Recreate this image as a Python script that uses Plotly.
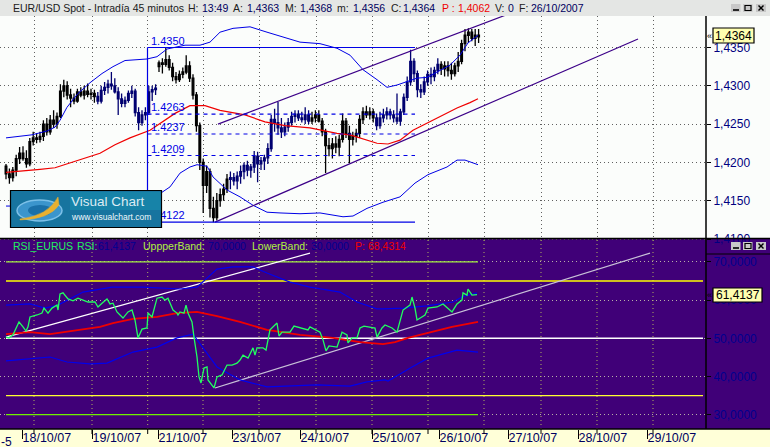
import plotly.graph_objects as go

W, H = 770, 447
PANEL_R = 706
TOP_T, TOP_B = 16, 241
BOT_T, BOT_B = 239, 429

# ---------- price panel data ----------
bar_open = [1.4195,1.4185,1.4180,1.4190,1.4205,1.4212,1.4205,1.4198,1.4227,1.4232,
 1.4230,1.4234,1.4250,1.4240,1.4255,1.4250,1.4260,1.4293,1.4300,1.4288,
 1.4284,1.4280,1.4292,1.4288,1.4293,1.4289,1.4290,1.4286,1.4280,1.4294,
 1.4298,1.4302,1.4300,1.4292,1.4283,1.4277,1.4281,1.4290,1.4293,1.4265,
 1.4252,1.4262,1.4265,1.4292,1.4295,1.4325,1.4330,1.4328,1.4334,1.4324,
 1.4312,1.4308,1.4315,1.4318,1.4326,1.4310,1.4288,1.4248,1.4200,1.4170,
 1.4188,1.4140,1.4128,1.4150,1.4158,1.4165,1.4178,1.4180,1.4176,1.4182,
 1.4188,1.4196,1.4190,1.4194,1.4208,1.4198,1.4202,1.4206,1.4218,1.4256,
 1.4252,1.4245,1.4240,1.4246,1.4252,1.4260,1.4263,1.4258,1.4256,1.4262,
 1.4254,1.4258,1.4262,1.4254,1.4240,1.4222,1.4218,1.4224,1.4220,1.4230,
 1.4254,1.4238,1.4230,1.4234,1.4238,1.4256,1.4266,1.4262,1.4266,1.4258,
 1.4248,1.4258,1.4262,1.4266,1.4262,1.4258,1.4254,1.4266,1.4285,1.4305,
 1.4332,1.4316,1.4295,1.4292,1.4305,1.4315,1.4312,1.4320,1.4328,1.4322,
 1.4326,1.4320,1.4316,1.4326,1.4332,1.4355,1.4366,1.4370,1.4362,1.4366]
bar_high = [1.4198,1.4192,1.4194,1.4210,1.4220,1.4221,1.4216,1.4232,1.4240,1.4238,
 1.4240,1.4255,1.4258,1.4262,1.4268,1.4265,1.4302,1.4308,1.4306,1.4296,
 1.4290,1.4296,1.4298,1.4300,1.4303,1.4296,1.4295,1.4292,1.4300,1.4305,
 1.4308,1.4318,1.4310,1.4298,1.4290,1.4286,1.4294,1.4300,1.4296,1.4272,
 1.4268,1.4272,1.4300,1.4300,1.4302,1.4333,1.4336,1.4350,1.4340,1.4330,
 1.4318,1.4320,1.4324,1.4340,1.4332,1.4315,1.4292,1.4252,1.4205,1.4196,
 1.4192,1.4155,1.4160,1.4166,1.4172,1.4185,1.4188,1.4186,1.4188,1.4196,
 1.4200,1.4202,1.4198,1.4215,1.4214,1.4207,1.4210,1.4225,1.4262,1.4270,
 1.4279,1.4258,1.4252,1.4258,1.4266,1.4268,1.4268,1.4266,1.4272,1.4268,
 1.4266,1.4268,1.4268,1.4258,1.4244,1.4232,1.4232,1.4234,1.4236,1.4264,
 1.4258,1.4248,1.4240,1.4244,1.4262,1.4272,1.4274,1.4272,1.4270,1.4264,
 1.4266,1.4270,1.4272,1.4270,1.4268,1.4290,1.4270,1.4290,1.4312,1.4347,
 1.4336,1.4320,1.4302,1.4312,1.4320,1.4324,1.4325,1.4336,1.4332,1.4332,
 1.4332,1.4330,1.4330,1.4344,1.4360,1.4374,1.4375,1.4374,1.4374,1.4374]
bar_low = [1.4178,1.4172,1.4175,1.4182,1.4198,1.4202,1.4193,1.4195,1.4222,1.4225,
 1.4226,1.4228,1.4235,1.4236,1.4245,1.4244,1.4258,1.4285,1.4282,1.4272,
 1.4276,1.4278,1.4285,1.4282,1.4285,1.4282,1.4278,1.4276,1.4277,1.4288,
 1.4290,1.4295,1.4290,1.4262,1.4272,1.4272,1.4278,1.4284,1.4260,1.4242,
 1.4248,1.4255,1.4262,1.4280,1.4288,1.4318,1.4316,1.4325,1.4320,1.4306,
 1.4303,1.4305,1.4310,1.4315,1.4305,1.4282,1.4240,1.4190,1.4134,1.4160,
 1.4128,1.4122,1.4124,1.4142,1.4150,1.4160,1.4165,1.4170,1.4165,1.4172,
 1.4178,1.4182,1.4180,1.4186,1.4174,1.4190,1.4190,1.4198,1.4214,1.4240,
 1.4236,1.4232,1.4234,1.4240,1.4248,1.4252,1.4254,1.4252,1.4250,1.4250,
 1.4250,1.4252,1.4252,1.4234,1.4186,1.4208,1.4205,1.4212,1.4208,1.4226,
 1.4232,1.4199,1.4222,1.4226,1.4232,1.4250,1.4258,1.4256,1.4252,1.4242,
 1.4244,1.4252,1.4256,1.4256,1.4252,1.4250,1.4248,1.4262,1.4280,1.4300,
 1.4305,1.4285,1.4284,1.4288,1.4300,1.4302,1.4306,1.4315,1.4314,1.4312,
 1.4312,1.4308,1.4312,1.4318,1.4328,1.4345,1.4356,1.4358,1.4352,1.4356]
bar_close = [1.4185,1.4180,1.4190,1.4205,1.4212,1.4205,1.4198,1.4227,1.4232,1.4230,
 1.4234,1.4250,1.4240,1.4255,1.4250,1.4260,1.4293,1.4300,1.4288,1.4284,
 1.4280,1.4292,1.4288,1.4293,1.4289,1.4290,1.4286,1.4280,1.4294,1.4298,
 1.4302,1.4300,1.4292,1.4283,1.4277,1.4281,1.4290,1.4293,1.4265,1.4252,
 1.4262,1.4265,1.4292,1.4295,1.4297,1.4330,1.4328,1.4334,1.4324,1.4312,
 1.4308,1.4315,1.4318,1.4326,1.4310,1.4288,1.4248,1.4200,1.4170,1.4188,
 1.4140,1.4128,1.4150,1.4158,1.4165,1.4178,1.4180,1.4176,1.4182,1.4188,
 1.4196,1.4190,1.4194,1.4208,1.4198,1.4202,1.4206,1.4218,1.4256,1.4252,
 1.4245,1.4240,1.4246,1.4252,1.4260,1.4263,1.4258,1.4256,1.4262,1.4254,
 1.4258,1.4262,1.4254,1.4240,1.4222,1.4218,1.4224,1.4220,1.4230,1.4254,
 1.4238,1.4230,1.4234,1.4238,1.4256,1.4266,1.4262,1.4266,1.4258,1.4248,
 1.4258,1.4262,1.4266,1.4262,1.4258,1.4254,1.4266,1.4285,1.4305,1.4332,
 1.4316,1.4295,1.4292,1.4305,1.4315,1.4312,1.4320,1.4328,1.4322,1.4326,
 1.4320,1.4316,1.4326,1.4332,1.4355,1.4366,1.4370,1.4362,1.4366,1.4364]
navy_spans = [(27, 44), (66, 89), (109, 127)]

upper_t = [6,32,47,55,60,67,78,90,102,113,125,147,157,167,185,200,210,220,233,250,267,300,320,337,350,363,377,387,397,407,417,427,437,450,460,468,478]
upper_v = [1.4232,1.4236,1.4241,1.4246,1.4255,1.4272,1.4290,1.4304,1.4316,1.4325,1.4333,1.4335,1.4338,1.4348,1.4353,1.4353,1.4357,1.4370,1.4375,1.4377,1.4370,1.4357,1.4355,1.4349,1.4340,1.4321,1.4308,1.4298,1.4301,1.4305,1.4310,1.4311,1.4318,1.4327,1.4340,1.4356,1.4366]
mid_t = [6,20,40,55,65,80,100,115,130,150,165,175,190,205,220,245,265,285,310,323,337,350,363,377,388,400,413,427,443,457,470,478]
mid_v = [1.4187,1.4189,1.4191,1.4193,1.4197,1.4203,1.4212,1.4223,1.4232,1.4242,1.4255,1.4264,1.4274,1.4274,1.4268,1.4262,1.4253,1.4248,1.4245,1.4242,1.4238,1.4236,1.4231,1.4225,1.4224,1.4229,1.4242,1.4251,1.4262,1.4271,1.4278,1.4283]
lower_t = [6,40,100,140,162,170,180,190,197,207,213,227,240,253,267,280,300,320,343,353,367,383,400,415,428,447,457,465,473,478]
lower_v = [1.4143,1.4143,1.4145,1.4155,1.4161,1.4168,1.4186,1.4194,1.4197,1.4195,1.4181,1.4164,1.4155,1.4144,1.4135,1.4134,1.4133,1.4134,1.4129,1.4130,1.4140,1.4148,1.4155,1.4173,1.4184,1.4194,1.4203,1.4203,1.4199,1.4197]
chan_up_t, chan_up_v = [218, 505], [1.4250, 1.4392]
chan_lo_t, chan_lo_v = [215, 638], [1.4122, 1.4361]
fib_t = [147.5, 415]
fib_solid = [1.4350, 1.4122]
fib_dashed = [1.4263, 1.4237, 1.4209]
price_ticks = [1.41, 1.415, 1.42, 1.425, 1.43, 1.435]
price_tick_text = ["1,4100", "1,4150", "1,4200", "1,4250", "1,4300", "1,4350"]

# ---------- RSI panel data ----------
rsi_t = [6,9,13,16,19,23,26,28,30,37,42,44,48,52,57,58,60,63,68,73,78,83,88,95,98,102,107,110,113,117,123,128,132,135,138,142,147,148,152,157,162,165,168,173,177,178,180,184,186,188,192,194,197,199,201,204,207,208,212,214,217,222,227,232,237,240,243,248,253,255,257,263,266,269,270,277,279,282,290,294,302,308,310,315,320,323,326,329,337,342,347,348,352,357,360,364,372,375,377,382,385,392,397,400,403,410,412,415,417,425,428,437,443,452,457,462,463,467,468,472,477]
rsi_v = [50.3,50.1,50.9,52.7,54.3,53.0,51.9,53.0,55.6,56.1,56.6,57.9,56.6,57.9,58.7,57.4,61.6,61.9,60.3,59.8,60.5,60.0,59.5,59.5,58.2,59.2,60.3,59.0,59.2,56.9,55.3,56.9,57.4,54.8,50.1,52.4,52.7,56.6,55.6,60.5,60.8,60.0,60.5,57.4,56.6,56.1,56.9,56.6,58.7,56.6,54.3,50.3,45.1,39.9,38.3,42.2,42.5,39.1,37.5,37.0,39.9,40.4,43.0,43.0,43.5,44.3,45.6,44.8,47.5,45.6,47.5,47.5,46.9,51.4,52.2,54.0,50.6,51.6,51.6,53.2,52.7,52.2,53.0,52.2,51.6,49.6,46.7,48.0,47.7,51.6,50.9,48.8,50.1,50.1,52.7,53.2,52.7,52.7,50.3,52.7,53.5,52.7,51.6,54.8,57.4,58.7,60.8,57.9,54.8,56.1,57.9,58.2,59.0,56.9,59.0,60.0,61.9,61.3,62.9,61.3,61.41]
rsi_up_t = [6,30,45,58,83,112,143,180,197,207,217,233,253,267,290,310,340,357,377,383,403,427,453,462,477]
rsi_up_v = [58.7,59.0,57.9,58.7,62.1,63.4,63.4,62.9,63.4,65.8,68.1,68.7,68.7,67.1,64.7,63.4,62.1,59.5,57.7,57.7,57.9,58.5,59.5,60.8,61.9]
rsi_mid_t = [6,30,50,77,100,113,133,157,177,197,217,240,267,300,333,360,383,395,408,428,452,478]
rsi_mid_v = [51.1,51.6,51.1,52.2,53.0,54.0,55.1,55.6,56.6,56.9,55.8,54.3,52.2,50.9,50.1,49.0,48.5,49.0,50.1,51.4,53.0,54.3]
rsi_lo_t = [6,33,50,67,90,107,133,157,177,193,203,217,240,267,317,350,367,385,388,398,412,428,442,457,465,478]
rsi_lo_v = [44.1,44.6,45.1,43.8,43.3,43.5,46.4,47.7,50.1,51.1,47.5,42.5,39.1,37.3,37.8,37.5,38.6,39.1,38.8,40.4,42.5,44.8,45.9,46.9,46.7,46.4]
rsi_chan1_t, rsi_chan1_v = [6, 310], [50.3, 72.3]
rsi_chan2_t, rsi_chan2_v = [215, 650], [37.0, 72.3]
rsi_ticks = [30, 40, 50, 60, 70]
rsi_tick_text = ["30,0000", "40,0000", "50,0000", "60,0000", "70,0000"]

grid_t = [34, 92, 147.7, 203, 259, 316, 372, 428, 484, 541, 597, 653]
date_t = [22, 92, 158, 232, 300, 372, 439, 508, 578, 647]
date_labels = ["18/10/07", "19/10/07", "21/10/07", "23/10/07", "24/10/07", "25/10/07", "26/10/07", "27/10/07", "28/10/07", "29/10/07"]

# ---------- styles ----------
FONT = "Liberation Sans"
BG = "#fbfdfb"
PURPLE = "#400078"
CREAM = "#ffffd8"
NAVY = "#000080"
BLUE = "#0000e6"
INDIGO = "#3c0088"


def px(x):
    return x / W


def py(y):
    return 1 - y / H


price_at = lambda y: 1.4350 - (y - 47.5) * 0.00013055
rsi_at = lambda y: 50 + (338.3 - y) / 3.82

fig = go.Figure()

idx = list(range(len(bar_close)))
bar_t = [6 + i * 3.4 for i in idx]
is_navy = [any(a <= i <= b for a, b in navy_spans) for i in idx]
for colour, flag in (("#000000", False), ("#000070", True)):
    keep = [i for i in idx if is_navy[i] == flag]
    fig.add_trace(go.Candlestick(
        x=[bar_t[i] for i in keep],
        open=[bar_open[i] for i in keep],
        high=[bar_high[i] for i in keep],
        low=[bar_low[i] for i in keep],
        close=[bar_close[i] for i in keep],
        whiskerwidth=0,
        increasing=dict(line=dict(color=colour, width=1.3), fillcolor=colour),
        decreasing=dict(line=dict(color=colour, width=1.3), fillcolor=colour),
        xaxis="x", yaxis="y", showlegend=False))


def line(xs, ys, colour, width=1, dash=None, axis=1):
    fig.add_trace(go.Scatter(
        x=xs, y=ys, mode="lines", showlegend=False,
        line=dict(color=colour, width=width, dash=dash),
        xaxis="x" if axis == 1 else "x2", yaxis="y" if axis == 1 else "y2"))


line(upper_t, upper_v, BLUE, 1)
line(lower_t, lower_v, BLUE, 1)
line(mid_t, mid_v, "#f00000", 1.2)
line(chan_up_t, chan_up_v, INDIGO, 1.2)
line(chan_lo_t, chan_lo_v, INDIGO, 1.2)
line([fib_t[0], fib_t[0]], fib_solid, BLUE, 1.2)
for lv in fib_solid:
    line(fib_t, [lv, lv], BLUE, 1.2)
for lv in fib_dashed:
    line(fib_t, [lv, lv], BLUE, 1.1, "4px,4px")
fig.add_trace(go.Scatter(
    x=[151] * 5, y=[1.4350, 1.4263, 1.4237, 1.4209, 1.4122],
    text=["1.4350", "1.4263", "1.4237", "1.4209", "1.4122"],
    mode="text", textposition="top right", showlegend=False,
    textfont=dict(family=FONT, size=11, color=BLUE), xaxis="x", yaxis="y"))

for g in grid_t:
    fig.add_trace(go.Scatter(x=[g, g], y=[rsi_at(BOT_B), rsi_at(BOT_T)], mode="lines", showlegend=False,
                             line=dict(color="#b0b060", width=1, dash="1px,3px"), xaxis="x2", yaxis="y2"))

for lv, col, xs, w in ((70, "#a4f040", [6, 478], 1.3), (65, "#ffff00", [6, 703], 1.4),
                       (50, "#ffffff", [6, 703], 1.4), (35, "#ffff30", [6, 703], 1.4),
                       (30, "#70f000", [6, 478], 1.3)):
    line(xs, [lv, lv], col, w, axis=2)
line(rsi_chan1_t, rsi_chan1_v, "#ffffff", 1.2, axis=2)
line(rsi_chan2_t, rsi_chan2_v, "#c8c0d8", 1.2, axis=2)
line(rsi_up_t, rsi_up_v, "#0000ee", 1.2, axis=2)
line(rsi_lo_t, rsi_lo_v, "#0000ee", 1.2, axis=2)
line(rsi_mid_t, rsi_mid_v, "#f00000", 1.8, axis=2)
line(rsi_t, rsi_v, "#20ff60", 1.3, axis=2)

shapes = []


def rect(x0, y0, x1, y1, fill, line_col=None, lw=1, layer="above", **kw):
    d = dict(type="rect", xref="paper", yref="paper", x0=px(x0), x1=px(x1), y0=py(y1), y1=py(y0),
             fillcolor=fill, line=dict(color=line_col or fill, width=lw if line_col else 0), layer=layer)
    d.update(kw)
    shapes.append(d)


def seg(x0, y0, x1, y1, col="#000000", w=1, layer="above"):
    shapes.append(dict(type="line", xref="paper", yref="paper", x0=px(x0), x1=px(x1), y0=py(y0), y1=py(y1),
                       line=dict(color=col, width=w), layer=layer))


rect(0, 0, 770, 240, BG, layer="below")
rect(0, 239, 770, 429, PURPLE, layer="below")
rect(0, 429, 770, 447, CREAM, layer="below")
shapes.append(dict(type="rect", xref="paper", yref="y2", x0=px(706), x1=1,
                   y0=rsi_at(BOT_B), y1=rsi_at(BOT_T), fillcolor=PURPLE, line=dict(width=0), layer="between"))
rect(0, 0, 770, 16, "#e4e6e4")
seg(0, 238.5, 770, 238.5, "#000000", 1.4)
seg(PANEL_R, 16, PANEL_R, 429, "#000000", 1.5)
seg(0, 429, 770, 429, "#000000", 1.4)
seg(706, 254, 770, 254, "#000000", 1.2)
for g in grid_t:
    seg(g, 429, g, 434, "#000000", 1)


def buttons(y0, y1):
    for x0, x1 in ((731, 740.5), (743, 752.5), (756, 766)):
        rect(x0, y0, x1, y1, "#c8c8c8")
    seg(733, y1 - 2, 739, y1 - 2, "#000000", 1.6)
    rect(745, y0 + 1.5, 751, y1 - 1.5, "rgba(0,0,0,0)", "#000000", 1.2)
    seg(758.5, y0 + 1.5, 763.5, y1 - 1.5, "#000000", 1.4)
    seg(758.5, y1 - 1.5, 763.5, y0 + 1.5, "#000000", 1.4)


buttons(4, 12)
buttons(242, 250)

# logo
rect(10.5, 190.5, 161.5, 227.5, "#17749f", "#000000", 1.2)
rect(70, 192, 160.5, 210, "#1783a8")
shapes.append(dict(type="circle", xref="paper", yref="paper", x0=px(17), x1=px(62), y0=py(221), y1=py(200),
                   fillcolor="#3b95cc", line=dict(color="#7cc0e8", width=1.5), layer="above"))
shapes.append(dict(type="circle", xref="paper", yref="paper", x0=px(28), x1=px(52), y0=py(216), y1=py(205),
                   fillcolor="#1a70a8", line=dict(width=0), layer="above"))
shapes.append(dict(type="path", xref="paper", yref="paper", layer="above", fillcolor="#e8b030",
                   line=dict(color="#e8b030", width=0.5),
                   path="M %f %f Q %f %f %f %f L %f %f Q %f %f %f %f Z" % (
                       px(20), py(219), px(48), py(216), px(58), py(197), px(59), py(205), px(50), py(219), px(20), py(220))))

rect(713, 28, 754, 43, "#ffffb0", "#000000", 1.2)
rect(713, 288, 762, 302, "#ffffb0", "#000000", 1.2)

anns = []


def lab(x, y, text, colour="#000000", size=10.5, family=FONT, anchor="left"):
    anns.append(dict(xref="paper", yref="paper", x=px(x), y=py(y), text=text,
                     showarrow=False, xanchor=anchor, yanchor="middle", borderpad=0, borderwidth=0,
                     font=dict(family=family, size=size, color=colour)))


DK = "#000060"
for x, t, c in ((13, "EUR/USD Spot - Intradía 45 minutos", "#202020"), (188, "H:", "#202020"), (202, "13:49", DK),
                (233, "A:", "#202020"), (247, "1,4363", DK), (285, "M:", "#202020"), (300, "1,4368", DK),
                (337, "m:", "#202020"), (353, "1,4356", DK), (391, "C:", "#202020"), (403, "1,4364", DK),
                (442, "P :", "#f00000"), (458, "1,4062", "#f00000"), (495, "V:", "#202020"), (508, "0", DK),
                (519, "F:", "#202020"), (531, "26/10/2007", DK)):
    lab(x, 8, t, c)
for x, t, c in ((13, "RSI_EURUS", "#20f060"), (77, "RSI:", "#20f060"), (98, "61,4137", "#000090"),
                (143, "UppperBand:", "#b0f040"), (208, "70,0000", "#000090"), (252, "LowerBand:", "#b0f040"),
                (311, "30,0000", "#000090"), (355, "P:", "#f00000"), (368, "68,4314", "#f00000")):
    lab(x, 246, t, c)
lab(733.5, 36, "1,4364", "#000000", 12, anchor="center")
lab(737.5, 295, "61,4137", "#000000", 12, anchor="center")
lab(707, 36, "«", "#000000", 9)
lab(707, 295, "«", "#000000", 9)
lab(1, 441.5, "-5", DK, 12)
lab(71, 202, "Visual Chart", "#dcecf4", 13.5)
lab(71, 217, "www.visualchart.com", "#f0f8fc", 8.5)

xdom = [0, PANEL_R / W]
fig.update_layout(
    width=W, height=H, margin=dict(l=0, r=0, t=0, b=0, autoexpand=False), autosize=False,
    paper_bgcolor=BG, plot_bgcolor="rgba(0,0,0,0)",
    showlegend=False, shapes=shapes, annotations=anns,
    xaxis=dict(domain=xdom, range=[0, PANEL_R], anchor="y", tickmode="array", tickvals=grid_t, ticktext=[""] * len(grid_t),
               showgrid=True, gridcolor="#606060", griddash="1px,3px", gridwidth=1, ticks="", showline=False,
               zeroline=False, rangeslider=dict(visible=False), fixedrange=True),
    yaxis=dict(domain=[py(TOP_B), py(TOP_T)], range=[price_at(TOP_B), price_at(TOP_T)], side="right", anchor="x",
               tickmode="array", tickvals=price_ticks, ticktext=price_tick_text, showgrid=True, gridcolor="#606060",
               griddash="1px,3px", gridwidth=1, ticks="outside", ticklen=4, tickcolor="#000000", showline=False,
               zeroline=False, tickfont=dict(family=FONT, size=12, color=NAVY), fixedrange=True),
    xaxis2=dict(domain=xdom, range=[0, PANEL_R], anchor="y2", tickmode="array", tickvals=date_t, ticktext=date_labels,
                showgrid=False, ticks="outside", ticklen=9, tickcolor="#000000", ticklabelposition="outside right",
                ticklabelstandoff=-3, tickfont=dict(family=FONT, size=12.5, color=DK), showline=False, zeroline=False,
                tickangle=0, fixedrange=True),
    yaxis2=dict(domain=[py(BOT_B), py(BOT_T)], range=[rsi_at(BOT_B), rsi_at(BOT_T)], side="right", anchor="x2",
                tickmode="array", tickvals=rsi_ticks, ticktext=rsi_tick_text, showgrid=True, gridcolor="#b8b0a8",
                griddash="1px,3px", gridwidth=1, ticks="outside", ticklen=4, tickcolor="#000000", showline=False,
                zeroline=False, tickfont=dict(family=FONT, size=12, color="#000090"), fixedrange=True),
)

fig.write_html("out.html", config=dict(displayModeBar=False, responsive=False),
               post_script="document.body.style.margin='0';document.body.style.overflow='hidden';")
